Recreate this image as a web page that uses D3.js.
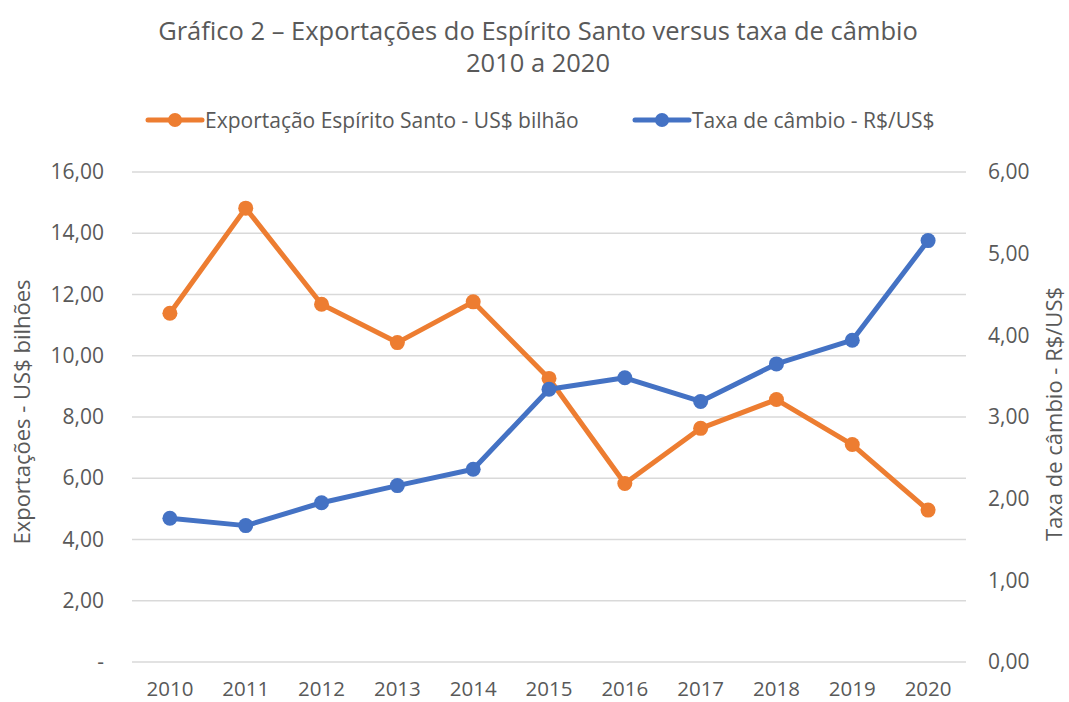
<!DOCTYPE html>
<html><head><meta charset="utf-8">
<script src="https://cdn.jsdelivr.net/npm/d3@7"></script>
<style>body{margin:0;background:#fff}svg{display:block}text{font-family:"Open Sans",sans-serif}</style>
</head><body><div id="chart"></div>
<script>
const years = ["2010","2011","2012","2013","2014","2015","2016","2017","2018","2019","2020"];
const exportacoes = [11.39,14.82,11.68,10.43,11.76,9.26,5.83,7.63,8.57,7.10,4.96];
const cambio = [1.76,1.67,1.95,2.16,2.36,3.34,3.48,3.19,3.65,3.94,5.16];
const leftTicks = [0,2,4,6,8,10,12,14,16];
const rightTicks = [0,1,2,3,4,5,6];
const seriesNames = ["Exportação Espírito Santo - US$ bilhão","Taxa de câmbio - R$/US$"];
const titleLines = ["Gráfico 2 – Exportações do Espírito Santo versus taxa de câmbio","2010 a 2020"];

const W=1069,H=702;
const m={left:132,right:W-966,top:172,bottom:H-662};
const svg=d3.select("#chart").append("svg").attr("width",W).attr("height",H);
const x=d3.scaleBand().domain(years).range([m.left,W-m.right]);
const yL=d3.scaleLinear().domain([0,16]).range([H-m.bottom,m.top]);
const yR=d3.scaleLinear().domain([0,6]).range([H-m.bottom,m.top]);
const gray="#595959", orange="#ED7D31", blue="#4472C4";
const fmt=v=>v===0?"-":d3.format(".2f")(v).replace(".",",");
const fmtR=v=>d3.format(".2f")(v).replace(".",",");
const fs="21px";

// gridlines
svg.append("g").selectAll("line").data(leftTicks).join("line")
 .attr("x1",m.left).attr("x2",W-m.right).attr("y1",d=>yL(d)).attr("y2",d=>yL(d))
 .attr("stroke","#d9d9d9").attr("stroke-width",1.3);

// left axis
const gl=svg.append("g").attr("transform",`translate(${m.left},0)`)
 .call(d3.axisLeft(yL).tickValues(leftTicks).tickFormat(fmt).tickSize(0).tickPadding(28));
gl.select(".domain").remove();
gl.selectAll("text").attr("fill",gray).style("font-size",fs).style("font-family","Open Sans");
// right axis
const gr=svg.append("g").attr("transform",`translate(${W-m.right},0)`)
 .call(d3.axisRight(yR).tickValues(rightTicks).tickFormat(fmtR).tickSize(0).tickPadding(22));
gr.select(".domain").remove();
gr.selectAll("text").attr("fill",gray).style("font-size",fs).style("font-family","Open Sans");
// x axis
const gx=svg.append("g").attr("transform",`translate(0,${H-m.bottom})`)
 .call(d3.axisBottom(x).tickSize(0).tickPadding(19));
gx.select(".domain").remove();
gx.selectAll("text").attr("fill",gray).style("font-size","20.5px").style("font-family","Open Sans");

// axis titles
svg.append("text").attr("transform",`translate(30,412) rotate(-90)`)
 .attr("text-anchor","middle").attr("fill",gray).style("font-size","22px").text("Exportações - US$ bilhões");
svg.append("text").attr("transform",`translate(1062,414) rotate(-90)`)
 .attr("text-anchor","middle").attr("fill",gray).style("font-size","22px").text("Taxa de câmbio - R$/US$");

// title
svg.append("g").selectAll("text").data(titleLines).join("text")
 .attr("x",538).attr("y",(d,i)=>40+i*32).attr("text-anchor","middle").attr("fill",gray)
 .style("font-size","25.5px").text(d=>d);

// series
const series=[{vals:exportacoes,y:yL,c:orange},{vals:cambio,y:yR,c:blue}];
series.forEach(s=>{
 const line=d3.line().x((d,i)=>x(years[i])+x.bandwidth()/2).y(d=>s.y(d));
 svg.append("path").datum(s.vals).attr("d",line).attr("fill","none").attr("stroke",s.c)
  .attr("stroke-width",5).attr("stroke-linejoin","round");
 svg.append("g").selectAll("circle").data(s.vals).join("circle")
  .attr("cx",(d,i)=>x(years[i])+x.bandwidth()/2).attr("cy",d=>s.y(d)).attr("r",7.5).attr("fill",s.c);
});

// legend
const legX=[148,635];
const lg=svg.append("g").selectAll("g").data(seriesNames).join("g")
 .attr("transform",(d,i)=>`translate(${legX[i]},120)`);
lg.append("line").attr("x1",0).attr("x2",54).attr("stroke",(d,i)=>[orange,blue][i]).attr("stroke-width",5).attr("stroke-linecap","round");
lg.append("circle").attr("cx",27).attr("r",7).attr("fill",(d,i)=>[orange,blue][i]);
lg.append("text").attr("x",57).attr("y",8).attr("fill",gray).style("font-size","21px").text(d=>d);
</script></body></html>
